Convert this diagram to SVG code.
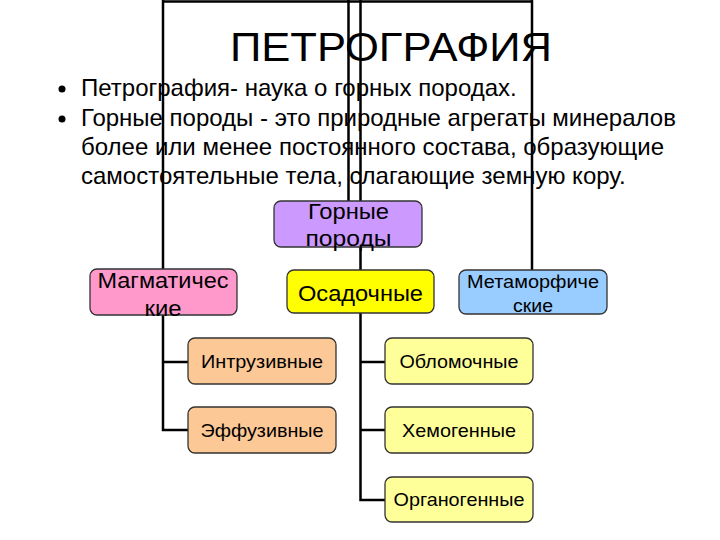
<svg xmlns="http://www.w3.org/2000/svg" width="720" height="540" viewBox="0 0 720 540">
<style>
text{font-family:"Liberation Sans",Arial,sans-serif;fill:#000}
.box{stroke:#333;stroke-width:1.3}
.conn{stroke:#000;stroke-width:2.5;fill:none}
.mid{font-size:22px;text-anchor:middle}
.low{font-size:18.5px;text-anchor:middle}
.body{font-size:24px}
</style>
<rect width="720" height="540" fill="#fff"/>
<g id="connectors">
<path class="conn" d="M163,1.5 H532 M163,0 V430 H188 M163,362 H188 M532,0 V270 M348.5,0 V201 M360.5,0 V500 H385 M360.5,362 H385 M360.5,430 H385"/>
</g>
<g id="title">
<text x="391" y="61" font-size="40" text-anchor="middle" textLength="322" lengthAdjust="spacingAndGlyphs">ПЕТРОГРАФИЯ</text>
</g>
<g id="bullets">
<circle cx="62" cy="89" r="3.5" fill="#000"/>
<circle cx="62" cy="119" r="3.5" fill="#000"/>
<text class="body" x="81" y="96">Петрография- наука о горных породах.</text>
<text class="body" x="81" y="126">Горные породы - это природные агрегаты минералов</text>
<text class="body" x="81" y="155">более или менее постоянного состава, образующие</text>
<text class="body" x="81" y="184">самостоятельные тела, слагающие земную кору.</text>
</g>
<g id="gornye">
<rect class="box" x="274" y="201" width="148" height="46" rx="7" fill="#cc99ff"/>
<text class="mid" x="348.5" y="219" textLength="81" lengthAdjust="spacingAndGlyphs">Горные</text>
<text class="mid" x="348.5" y="246" textLength="86" lengthAdjust="spacingAndGlyphs">породы</text>
</g>
<g id="magmaticheskie">
<rect class="box" x="90" y="269" width="147" height="46" rx="7" fill="#ff99cc"/>
<text class="mid" x="163" y="288" textLength="131" lengthAdjust="spacingAndGlyphs">Магматичес</text>
<text class="mid" x="163" y="316" textLength="37" lengthAdjust="spacingAndGlyphs">кие</text>
</g>
<g id="osadochnye">
<rect class="box" x="287" y="270" width="147" height="43" rx="7" fill="#ffff00"/>
<text class="mid" x="360.5" y="301" textLength="125" lengthAdjust="spacingAndGlyphs">Осадочные</text>
</g>
<g id="metamorficheskie">
<rect class="box" x="459" y="270" width="148" height="44" rx="7" fill="#99ccff"/>
<text x="533" y="288" font-size="17.5" text-anchor="middle" textLength="132" lengthAdjust="spacingAndGlyphs">Метаморфиче</text>
<text x="533" y="312" font-size="17.5" text-anchor="middle" textLength="40" lengthAdjust="spacingAndGlyphs">ские</text>
</g>
<g id="intruzivnye">
<rect class="box" x="188" y="338" width="148" height="46" rx="7" fill="#fcc896"/>
<text class="low" x="262" y="368" textLength="122" lengthAdjust="spacingAndGlyphs">Интрузивные</text>
</g>
<g id="effuzivnye">
<rect class="box" x="188" y="407" width="148" height="46" rx="7" fill="#fcc896"/>
<text class="low" x="262" y="437" textLength="123" lengthAdjust="spacingAndGlyphs">Эффузивные</text>
</g>
<g id="oblomochnye">
<rect class="box" x="385" y="338" width="148" height="46" rx="7" fill="#ffff99"/>
<text class="low" x="459" y="368" textLength="119" lengthAdjust="spacingAndGlyphs">Обломочные</text>
</g>
<g id="khemogennye">
<rect class="box" x="385" y="407" width="148" height="46" rx="7" fill="#ffff99"/>
<text class="low" x="459" y="437" textLength="114" lengthAdjust="spacingAndGlyphs">Хемогенные</text>
</g>
<g id="organogennye">
<rect class="box" x="385" y="477" width="148" height="45" rx="7" fill="#ffff99"/>
<text class="low" x="459" y="506" textLength="131" lengthAdjust="spacingAndGlyphs">Органогенные</text>
</g>
</svg>
